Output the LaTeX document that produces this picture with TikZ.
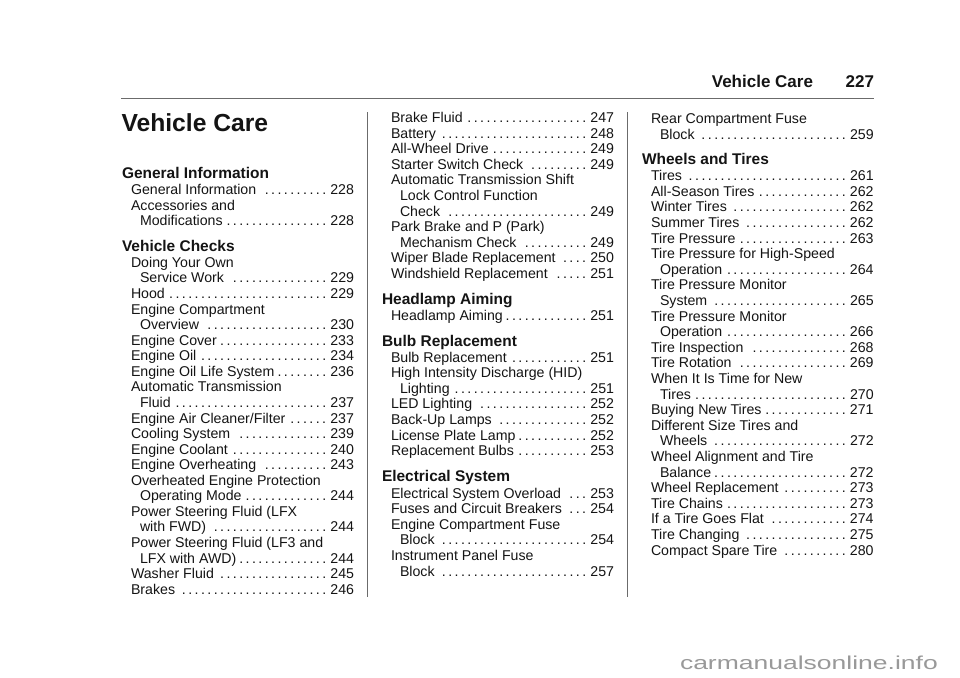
\documentclass[tikz,border=0pt]{standalone}
\usepackage{fontspec}
\usepackage{graphicx}
\setmainfont{Liberation Sans}
\definecolor{ink}{gray}{0.08}
\definecolor{rulegray}{gray}{0.42}
\definecolor{markgray}{gray}{0.6}
\newcount\entno
\newdimen\pitch \pitch=4.785pt
\def\colR{354}
\newcommand\makeentry[3]{%
  \dimen0=\dimexpr(\colR pt-#1pt)*3/4\relax
  \setbox0\hbox{#2}\setbox2\hbox{#3}%
  \dimen2=\dimexpr\dimen0-\wd0-\wd2-3.4pt-\pitch/2\relax
  \count0=\numexpr\dimen2/\pitch\relax
  \hbox to\dimen0{\box0\hfill\hbox{\leaders\hbox to\pitch{\hss.\hss}\hskip\count0\pitch}\kern2.2pt\box2}}
\newcommand\Ent[4]{\global\advance\entno by 1
  \node[entry] (e\the\entno) at (#1,#2) {\makeentry{#1}{#3}{#4}};}
\newcommand\Txt[3]{\global\advance\entno by 1
  \node[entry] (e\the\entno) at (#1,#2) {#3};}
\newcommand\Head[3]{\global\advance\entno by 1
  \node[headtxt] (e\the\entno) at (#1,#2) {#3};}
\tikzset{
  x=0.75pt,y=-0.75pt,
  entry/.style={anchor=base west,inner sep=0pt,outer sep=0pt,text=ink,font=\fontsize{10.63pt}{12pt}\selectfont},
  headtxt/.style={entry,font=\fontsize{11.6pt}{13pt}\selectfont\bfseries},
  pagerule/.style={draw=rulegray,line width=0.95pt},
}
\begin{document}
\begin{tikzpicture}
\useasboundingbox (0,0) rectangle (960,678);
\fill[white] (0,0) rectangle (960,678);
% running head
\node[entry,font=\fontsize{12.75pt}{14pt}\selectfont\bfseries,anchor=base east] (rh) at (813,87) {Vehicle Care};
\node[entry,font=\fontsize{12.75pt}{14pt}\selectfont\bfseries,anchor=base east] (rp) at (874,87) {227};
\draw[pagerule] (121,98.7) -- (874,98.7);
\draw[pagerule] (367.7,112) -- (367.7,597);
\draw[pagerule] (627.7,112) -- (627.7,597);
\node[entry,font=\fontsize{18.5pt}{20pt}\selectfont\bfseries] (title) at (121.5,131) {Vehicle Care};
% column 1
\def\colR{354}
\def\A{131}\def\B{140}\def\H{122}
\Head{\H}{178}{General Information}
\Ent{\A}{194.5}{General Information}{228}
\Txt{\A}{210}{Accessories and}
\Ent{\B}{225.7}{Modifications}{228}
\Head{\H}{251.7}{Vehicle Checks}
\Txt{\A}{267.3}{Doing Your Own}
\Ent{\B}{{267.3+1*15.57}}{Service Work}{229}
\Ent{\A}{{267.3+2*15.57}}{Hood}{229}
\Txt{\A}{{267.3+3*15.57}}{Engine Compartment}
\Ent{\B}{{267.3+4*15.57}}{Overview}{230}
\Ent{\A}{{267.3+5*15.57}}{Engine Cover}{233}
\Ent{\A}{{267.3+6*15.57}}{Engine Oil}{234}
\Ent{\A}{{267.3+7*15.57}}{Engine Oil Life System}{236}
\Txt{\A}{{267.3+8*15.57}}{Automatic Transmission}
\Ent{\B}{{267.3+9*15.57}}{Fluid}{237}
\Ent{\A}{{267.3+10*15.57}}{Engine Air Cleaner/Filter}{237}
\Ent{\A}{{267.3+11*15.57}}{Cooling System}{239}
\Ent{\A}{{267.3+12*15.57}}{Engine Coolant}{240}
\Ent{\A}{{267.3+13*15.57}}{Engine Overheating}{243}
\Txt{\A}{{267.3+14*15.57}}{Overheated Engine Protection}
\Ent{\B}{{267.3+15*15.57}}{Operating Mode}{244}
\Txt{\A}{{267.3+16*15.57}}{Power Steering Fluid (LFX}
\Ent{\B}{{267.3+17*15.57}}{with FWD)}{244}
\Txt{\A}{{267.3+18*15.57}}{Power Steering Fluid (LF3 and}
\Ent{\B}{{267.3+19*15.57}}{LFX with AWD)}{244}
\Ent{\A}{{267.3+20*15.57}}{Washer Fluid}{245}
\Ent{\A}{{267.3+21*15.57}}{Brakes}{246}
% column 2
\def\colR{614}
\def\A{391}\def\B{400}\def\H{382}
\Ent{\A}{{122.7+0*15.56}}{Brake Fluid}{247}
\Ent{\A}{{122.7+1*15.56}}{Battery}{248}
\Ent{\A}{{122.7+2*15.56}}{All-Wheel Drive}{249}
\Ent{\A}{{122.7+3*15.56}}{Starter Switch Check}{249}
\Txt{\A}{{122.7+4*15.56}}{Automatic Transmission Shift}
\Txt{\B}{{122.7+5*15.56}}{Lock Control Function}
\Ent{\B}{{122.7+6*15.56}}{Check}{249}
\Txt{\A}{{122.7+7*15.56}}{Park Brake and P (Park)}
\Ent{\B}{{122.7+8*15.56}}{Mechanism Check}{249}
\Ent{\A}{{122.7+9*15.56}}{Wiper Blade Replacement}{250}
\Ent{\A}{{122.7+10*15.56}}{Windshield Replacement}{251}
\Head{\H}{304.3}{Headlamp Aiming}
\Ent{\A}{320.7}{Headlamp Aiming}{251}
\Head{\H}{346.7}{Bulb Replacement}
\Ent{\A}{{362.3+0*15.56}}{Bulb Replacement}{251}
\Txt{\A}{{362.3+1*15.56}}{High Intensity Discharge (HID)}
\Ent{\B}{{362.3+2*15.56}}{Lighting}{251}
\Ent{\A}{{362.3+3*15.56}}{LED Lighting}{252}
\Ent{\A}{{362.3+4*15.56}}{Back-Up Lamps}{252}
\Ent{\A}{{362.3+5*15.56}}{License Plate Lamp}{252}
\Ent{\A}{{362.3+6*15.56}}{Replacement Bulbs}{253}
\Head{\H}{481.7}{Electrical System}
\Ent{\A}{{498.3+0*15.56}}{Electrical System Overload}{253}
\Ent{\A}{{498.3+1*15.56}}{Fuses and Circuit Breakers}{254}
\Txt{\A}{{498.3+2*15.56}}{Engine Compartment Fuse}
\Ent{\B}{{498.3+3*15.56}}{Block}{254}
\Txt{\A}{{498.3+4*15.56}}{Instrument Panel Fuse}
\Ent{\B}{{498.3+5*15.56}}{Block}{257}
% column 3
\def\colR{873.6}
\def\A{651}\def\B{660}\def\H{642}
\Txt{\A}{123}{Rear Compartment Fuse}
\Ent{\B}{139}{Block}{259}
\Head{\H}{164}{Wheels and Tires}
\Ent{\A}{{180.7+0*15.6}}{Tires}{261}
\Ent{\A}{{180.7+1*15.6}}{All-Season Tires}{262}
\Ent{\A}{{180.7+2*15.6}}{Winter Tires}{262}
\Ent{\A}{{180.7+3*15.6}}{Summer Tires}{262}
\Ent{\A}{{180.7+4*15.6}}{Tire Pressure}{263}
\Txt{\A}{{180.7+5*15.6}}{Tire Pressure for High-Speed}
\Ent{\B}{{180.7+6*15.6}}{Operation}{264}
\Txt{\A}{{180.7+7*15.6}}{Tire Pressure Monitor}
\Ent{\B}{{180.7+8*15.6}}{System}{265}
\Txt{\A}{{180.7+9*15.6}}{Tire Pressure Monitor}
\Ent{\B}{{180.7+10*15.6}}{Operation}{266}
\Ent{\A}{{180.7+11*15.6}}{Tire Inspection}{268}
\Ent{\A}{{180.7+12*15.6}}{Tire Rotation}{269}
\Txt{\A}{{180.7+13*15.6}}{When It Is Time for New}
\Ent{\B}{{180.7+14*15.6}}{Tires}{270}
\Ent{\A}{{180.7+15*15.6}}{Buying New Tires}{271}
\Txt{\A}{{180.7+16*15.6}}{Different Size Tires and}
\Ent{\B}{{180.7+17*15.6}}{Wheels}{272}
\Txt{\A}{{180.7+18*15.6}}{Wheel Alignment and Tire}
\Ent{\B}{{180.7+19*15.6}}{Balance}{272}
\Ent{\A}{{180.7+20*15.6}}{Wheel Replacement}{273}
\Ent{\A}{{180.7+21*15.6}}{Tire Chains}{273}
\Ent{\A}{{180.7+22*15.6}}{If a Tire Goes Flat}{274}
\Ent{\A}{{180.7+23*15.6}}{Tire Changing}{275}
\Ent{\A}{{180.7+24*15.6}}{Compact Spare Tire}{280}
% watermark
\node[entry,text=markgray,font=\fontsize{14pt}{16pt}\selectfont] (wm) at (680,669) {\scalebox{1.42}[1]{carmanualsonline.info}};
\end{tikzpicture}
\end{document}
